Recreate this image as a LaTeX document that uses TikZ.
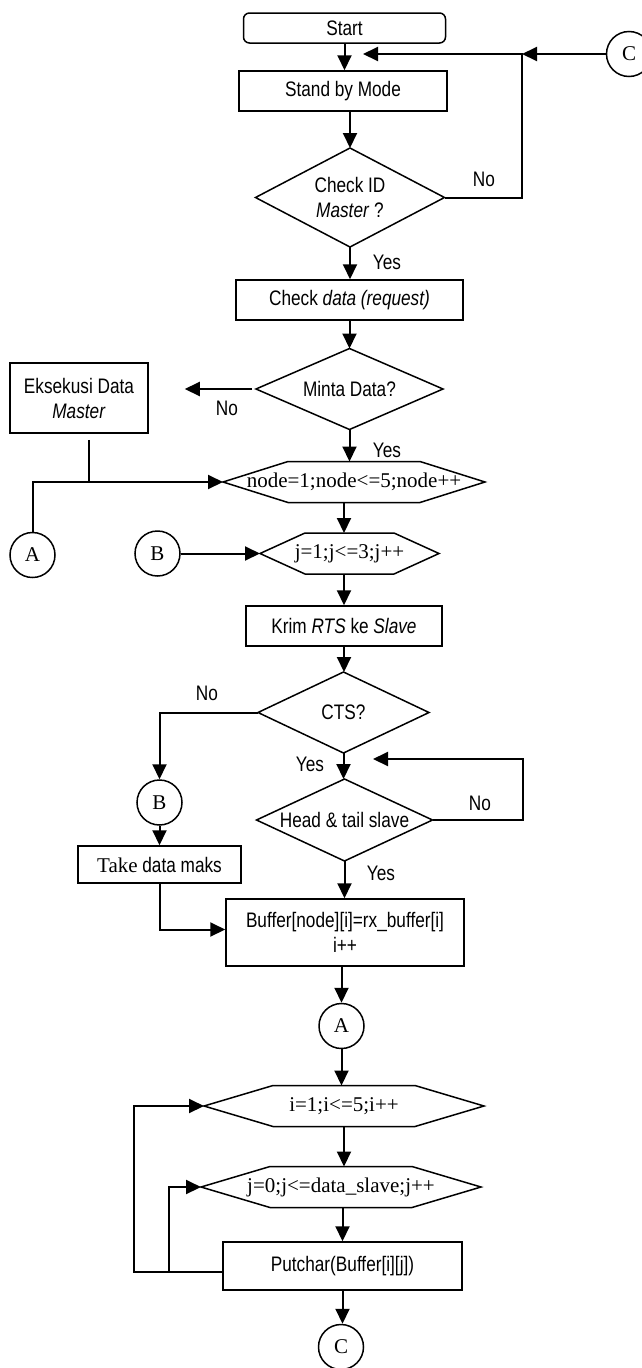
\documentclass[tikz,border=0pt]{standalone}
\usepackage{fontspec}
\setmainfont{Liberation Sans}[FakeStretch=0.82]
\newfontfamily\tnr{Liberation Serif}
\usetikzlibrary{arrows.meta,calc}
\tikzset{
 base/.style={font=\fontsize{21}{25}\selectfont, inner sep=0pt},
 box/.style={base, draw, line width=1.5pt, align=center},
 shp/.style={line width=1.5pt, line join=miter},
 dtext/.style={base, align=center},
 htext/.style={base, font=\tnr\fontsize{21}{25}\selectfont},
 conn/.style={base, draw, circle, minimum size=45pt, line width=1.5pt, font=\tnr\fontsize{21}{25}\selectfont},
 lbl/.style={base},
 arr/.style={line width=2pt, -{Triangle[length=15pt,width=14pt]}},
 ln/.style={line width=1.7pt},
}
% diamond: name, cx, cy, half width, half height, text
\newcommand\dnode[6]{%
  \node[dtext] (#1) at (#2,#3) {#6};
  \coordinate (#1-L) at (#2-#4,#3);
  \coordinate (#1-R) at (#2+#4,#3);
  \coordinate (#1-T) at (#2,#3-#5);
  \coordinate (#1-B) at (#2,#3+#5);
  \draw[shp] (#1-T) -- (#1-R) -- (#1-B) -- (#1-L) -- cycle;
}
% hexagon: name, cx, cy, half width, slant, text
\newcommand\hnode[6]{%
  \node[htext] (#1) at (#2,#3) {#6};
  \coordinate (#1-L) at (#2-#4,#3);
  \coordinate (#1-R) at (#2+#4,#3);
  \coordinate (#1-T) at (#2,#3-20.5);
  \coordinate (#1-B) at (#2,#3+20.5);
  \draw[shp] (#1-L) -- (#2-#4+#5,#3-20.5) -- (#2+#4-#5,#3-20.5) -- (#1-R)
     -- (#2+#4-#5,#3+20.5) -- (#2-#4+#5,#3+20.5) -- cycle;
}
\begin{document}
\begin{tikzpicture}[x=1pt,y=-1pt]
\useasboundingbox (0,0) rectangle (641,1368);

% nodes
\node[box, rounded corners=6pt, minimum width=202pt, minimum height=30pt] (start) at (344.5,28) {Start};
\node[box, minimum width=208pt, minimum height=40pt] (standby) at (343,91) {Stand by Mode};
\dnode{checkid}{350}{197.5}{94.5}{49.5}{Check ID\\\textit{Master} ?}
\node[conn] (ctop) at (629,54) {C};
\coordinate (nojoin) at (522,54);
\coordinate (fbtip) at (363,54);
\node[box, minimum width=227pt, minimum height=40pt] (checkdata) at (349.5,300) {Check \textit{data (request)}};
\dnode{minta}{349.5}{389}{93.5}{40.5}{Minta Data?}
\node[box, minimum width=138pt, minimum height=70pt] (eks) at (79,398) {Eksekusi Data\\\textit{Master}};
\hnode{hexnode}{354}{482}{131}{65}{node=1;node<=5;node++}
\node[conn] (circA1) at (32.5,555) {A};
\node[conn] (circB1) at (157.5,553.5) {B};
\coordinate (j1) at (89,482);
\hnode{jhex}{349.5}{553.5}{89.5}{45}{j=1;j<=3;j++}
\node[box, minimum width=196pt, minimum height=40pt] (krim) at (344,626) {Krim \textit{RTS} ke \textit{Slave}};
\dnode{cts}{343.5}{712.5}{85.5}{40.5}{CTS?}
\node[conn] (circB2) at (159.5,802.5) {B};
\dnode{head}{344.5}{820}{88}{41}{Head \& tail slave}
\coordinate (hfbtip) at (373,759);
\node[box, minimum width=163pt, minimum height=37pt] (take) at (159.5,864.5) {{\tnr Take} data maks};
\node[box, minimum width=238pt, minimum height=67pt] (buffer) at (345,932.5) {Buffer[node][i]=rx\_buffer[i]\\i++};
\node[conn] (circA2) at (341.5,1026) {A};
\hnode{ihex}{344}{1106}{140}{69}{i=1;i<=5;i++}
\hnode{jtwo}{341}{1187}{140}{69}{j=0;j<=data\_slave;j++}
\node[box, minimum width=239pt, minimum height=48pt] (putchar) at (342.5,1266) {Putchar(Buffer[i][j])};
\node[conn] (circC2) at (341,1347) {C};
\coordinate (lp1) at (169,1272);

% labels
\node[lbl] (no1) at (484,179) {No};
\node[lbl] (yes1) at (387,262) {Yes};
\node[lbl] (no2) at (227,408) {No};
\node[lbl] (yes2) at (387,450) {Yes};
\node[lbl] (no3) at (207,693) {No};
\node[lbl] (yes3) at (310,764) {Yes};
\node[lbl] (no4) at (480,803) {No};
\node[lbl] (yes4) at (381,873) {Yes};

% connectors
\draw[arr] (start.south) -- (start.south |- standby.north);
\draw[arr] (checkid-T |- standby.south) -- (checkid-T);
\draw[arr] (checkid-R) -| (nojoin) -- (fbtip);
\draw[arr] (ctop.west) -- (nojoin);
\draw[arr] (checkid-B) -- (checkid-B |- checkdata.north);
\draw[arr] (minta-T |- checkdata.south) -- (minta-T);
\draw[arr, shorten <=4pt, shorten >=36pt] (minta-L) -- (eks.east |- minta-L);
\draw[ln] ($(eks.south)+(10,6)$) -- (j1);
\draw[arr] (circA1.north) |- (hexnode-L);
\draw[arr] (minta-B) -- (minta-B |- hexnode-T);
\draw[arr] (krim.north |- hexnode-B) -- (krim.north |- jhex-T);
\draw[arr] (circB1.east) -- (jhex-L);
\draw[arr] (krim.north |- jhex-B) -- (krim.north);
\draw[arr] (krim.south) -- (krim.south |- cts-T);
\draw[arr] (cts-L) -| (circB2.north);
\draw[arr] (cts-B) -- (cts-B |- head-T);
\draw[arr] (head-R) -- (523,820) |- (hfbtip);
\draw[arr] (head-B) -- (head-B |- buffer.north);
\draw[arr] (circB2.south) -- (circB2.south |- take.north);
\draw[arr] (take.south) |- ($(buffer.west)+(0,-3)$);
\draw[arr] (circA2.north |- buffer.south) -- (circA2.north);
\draw[arr] (circA2.south) -- (circA2.south |- ihex-T);
\draw[arr] (ihex-B) -- (ihex-B |- jtwo-T);
\draw[arr] (putchar.north |- jtwo-B) -- (putchar.north);
\draw[arr] (putchar.south) -- (putchar.south |- circC2.north);
\draw[arr] ($(putchar.west)+(0,6)$) -- (133.5,1272) |- (ihex-L);
\draw[arr] (lp1) |- (jtwo-L);
\end{tikzpicture}
\end{document}
